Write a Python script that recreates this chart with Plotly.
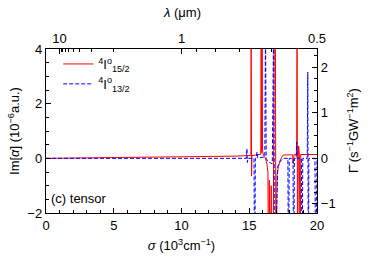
import plotly.graph_objects as go

# --- data (sigma in 10^3 cm^-1, Im[alpha] in 10^-6 a.u.) ---
sigma_red = [0, 5, 10, 14.0, 14.9, 15.12, 15.14, 15.17, 15.2, 15.85, 15.88, 15.91, 15.95, 15.98,
             16.05, 16.2, 16.3, 16.38, 16.42, 16.48, 16.55, 16.62, 16.68, 16.75, 16.85, 16.93,
             16.97, 17.05, 17.15, 17.3, 17.5, 18.2, 18.25, 18.3, 18.5, 18.53, 18.57, 18.62,
             18.65, 18.7, 18.75, 18.8, 20]
im_red = [0.0, 0.02, 0.05, 0.08, 0.1, 0.1, 5, -0.65, 0.1, 0.15, 5, 0.2, 5, 0.3,
          0.1, 0.0, -0.2, -0.5, -5, -0.8, -5, -1.0, -5, -5, 5, 5,
          -5, -0.6, -0.3, -0.05, 0.12, 0.13, -0.2, 0.13, 0.13, 5, -5, 0.12,
          0.45, 0.15, -5, 0.14, 0.14]

sigma_blue = [0, 10, 14.78, 14.83, 14.86, 14.9, 15.35, 15.40, 15.45, 15.52, 15.57, 15.62, 16.15,
              16.2, 16.25, 16.35, 16.5, 16.7, 16.8, 16.87, 17.1, 17.3, 17.5, 17.85, 17.9, 17.95,
              18.23, 18.28, 18.33, 18.46, 18.5, 18.54, 18.85, 18.9, 18.95, 19.28, 19.32, 19.36,
              19.4, 19.85, 19.9, 19.95, 20]
im_blue = [0.0, 0.0, 0.0, 0.35, -0.15, 0.0, 0.0, -5, 0.0, 0.02, 0.23, 0.02, 0.05,
           5, 0.0, -0.1, -0.15, -0.2, 5, -5, -0.3, -0.1, 0.0, 0.0, -5, 0.0,
           0.0, -5, 0.0, 0.0, 0.6, 0.0, 0.0, -5, 0.0, 0.0, 3.15, -5,
           0.0, 0.0, -5, 0.0, 0.0]

# top axis wavelength ticks (micrometres)
lam_major = [10, 1, 0.5]
lam_minor = [9, 8, 7, 6, 5, 4, 3, 2, 0.9, 0.8, 0.7, 0.6]

FONT = "Liberation Sans, Arial, sans-serif"
fs = 13

fig = go.Figure()
fig.add_trace(go.Scatter(x=sigma_red, y=im_red, mode="lines",
                         line=dict(color="#ff0000", width=1),
                         name="<sup>4</sup>I<sup>o</sup><sub>15/2</sub>"))
fig.add_trace(go.Scatter(x=sigma_blue, y=im_blue, mode="lines",
                         line=dict(color="#0000ff", width=1, dash="4px,2px"),
                         name="<sup>4</sup>I<sup>o</sup><sub>13/2</sub>"))
fig.add_trace(go.Scatter(x=[None], y=[None], xaxis="x2", yaxis="y2",
                         showlegend=False, hoverinfo="skip"))

axcommon = dict(showline=True, linecolor="black", linewidth=1.2, ticks="inside",
                tickcolor="black", ticklen=5, tickwidth=1, showgrid=False,
                zeroline=False, automargin=False,
                tickfont=dict(family=FONT, size=fs, color="black"))

fig.update_layout(
    width=382, height=266,
    margin=dict(l=46, r=65, t=49, b=53, autoexpand=False),
    paper_bgcolor="white", plot_bgcolor="white",
    font=dict(family=FONT, size=fs, color="black"),
    hovermode=False,
    showlegend=True,
    legend=dict(x=0.045, y=1.0, xanchor="left", yanchor="top",
                bgcolor="rgba(0,0,0,0)", font=dict(family=FONT, size=fs),
                tracegroupgap=0),
    xaxis=dict(range=[0, 20], dtick=5, tick0=0,
               minor=dict(dtick=1, ticks="inside", ticklen=3, tickcolor="black"),
               title=dict(text="<i>σ</i> (10<sup>3</sup>cm<sup>−1</sup>)", standoff=9,
                          font=dict(family=FONT, size=fs)),
               **axcommon),
    yaxis=dict(range=[-2, 4], dtick=2, tick0=0,
               minor=dict(dtick=0.5, ticks="inside", ticklen=3, tickcolor="black"),
               title=dict(text="Im[<i>α</i>] (10<sup>−6</sup>a.u.)", standoff=4,
                          font=dict(family=FONT, size=fs)),
               tickvals=[-2, 0, 2, 4], ticktext=["−2", "0", "2", "4"],
               **axcommon),
    xaxis2=dict(range=[0, 20], overlaying="x", side="top", anchor="y",
                tickmode="array", tickvals=[10 / l for l in lam_major],
                ticktext=[str(l) for l in lam_major],
                minor=dict(tickmode="array", tickvals=[10 / l for l in lam_minor],
                           ticks="inside", ticklen=3, tickcolor="black"),
                **axcommon),
    yaxis2=dict(range=[-1.2, 2.4], overlaying="y", side="right", anchor="x",
                tickvals=[-1, 0, 1, 2], ticktext=["−1", "0", "1", "2"],
                minor=dict(dtick=0.25, tick0=0, ticks="inside", ticklen=3, tickcolor="black"),
                **axcommon),
    annotations=[
        dict(text="(c) tensor", x=0.01, y=0.03, xref="paper", yref="paper",
             xanchor="left", yanchor="bottom", showarrow=False,
             font=dict(family=FONT, size=fs)),
        dict(text="<i>λ</i> (μm)", x=0.5, y=1.225, xref="paper", yref="paper",
             xanchor="center", yanchor="middle", showarrow=False,
             font=dict(family=FONT, size=fs)),
        dict(text="Γ̄ (s<sup>−1</sup>GW<sup>−1</sup>m<sup>2</sup>)", x=1.133, y=0.5,
             xref="paper", yref="paper", xanchor="center", yanchor="middle",
             textangle=-90, showarrow=False, font=dict(family=FONT, size=fs)),
    ],
)

# remove the page's default 8px body margin so the figure sits at the window origin
fig.write_html("out.html", config={"displayModeBar": False, "staticPlot": True},
               post_script="document.body.style.margin='0px';")
